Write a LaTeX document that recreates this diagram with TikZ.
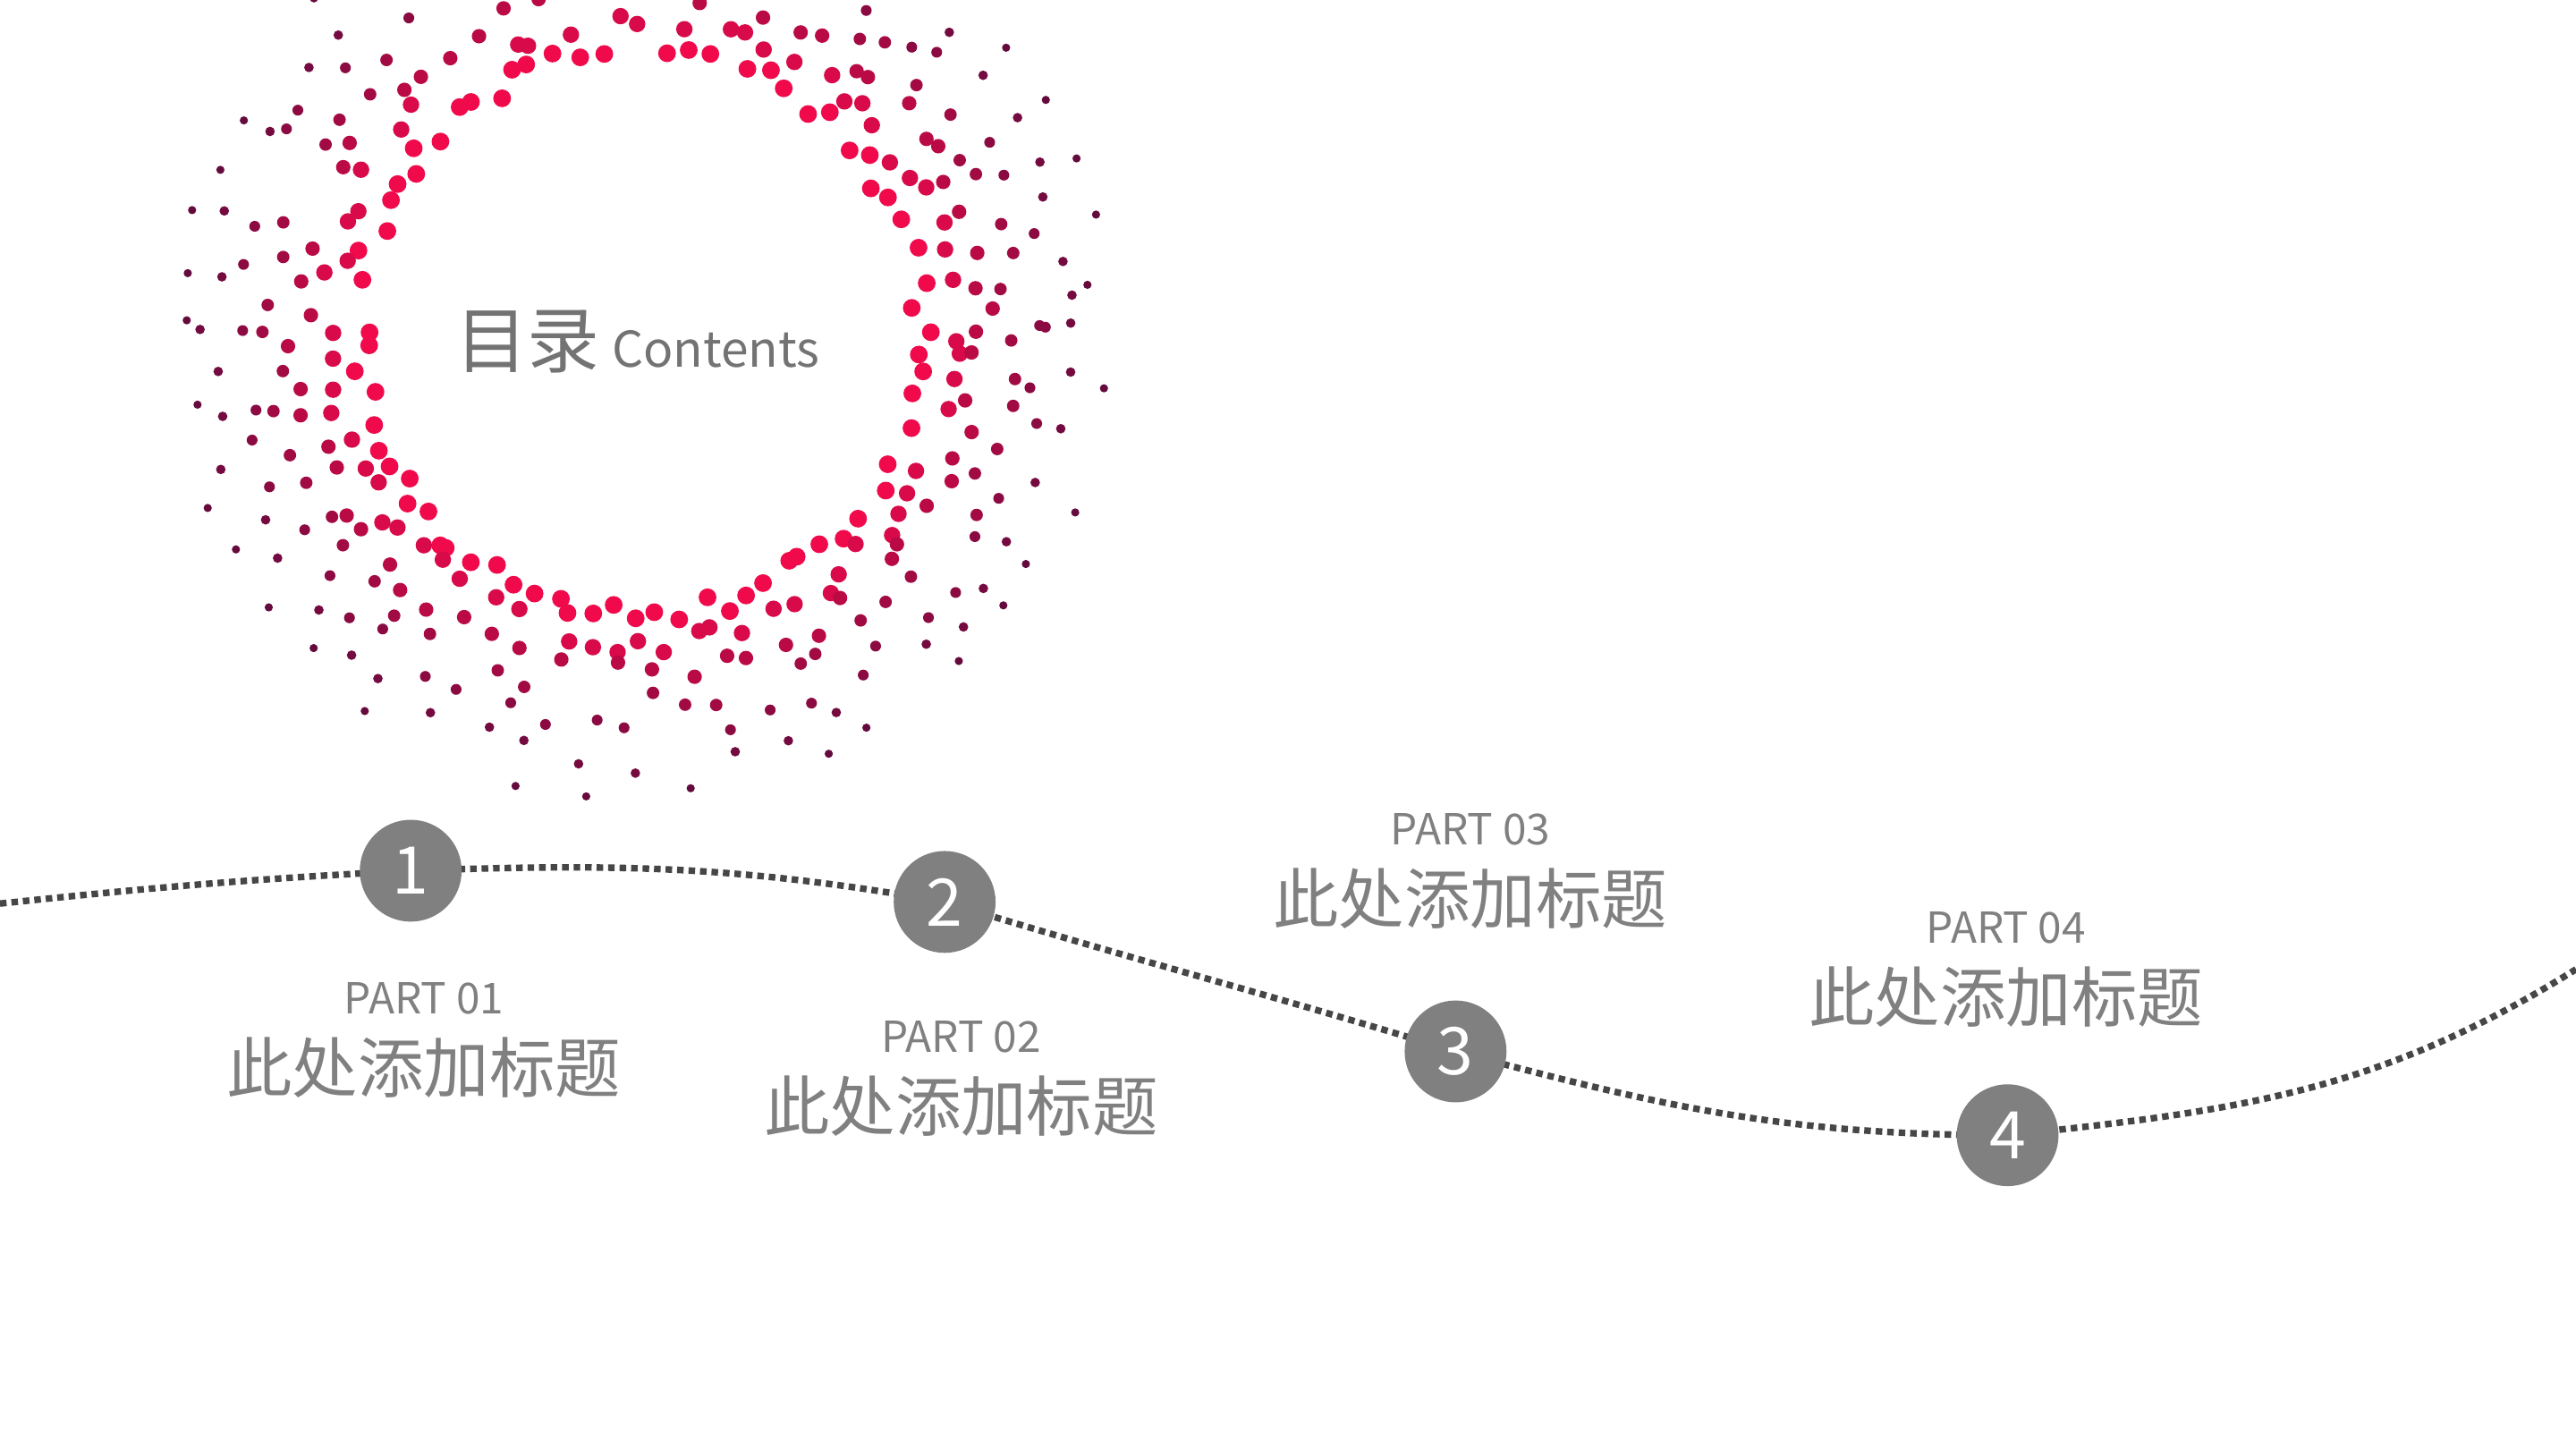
\documentclass[tikz,border=0pt]{standalone}
\usepackage{fontspec}
\usetikzlibrary{calc}
\setmainfont{Noto Sans CJK SC}
\definecolor{dotred}{RGB}{240,10,75}
\definecolor{dotpur}{RGB}{85,10,60}
\definecolor{txtgray}{RGB}{128,128,128}
\definecolor{linegray}{RGB}{70,70,70}
\tikzset{
  numcirc/.style={circle,fill=txtgray,minimum size=62pt,inner sep=0pt,text=white,font=\fontsize{40}{40}\selectfont},
  parttxt/.style={text=txtgray,font=\fontsize{26}{28}\selectfont,align=center},
  titletxt/.style={text=txtgray,font=\fontsize{40}{44}\selectfont,align=center},
  wave/.style={draw=linegray,line width=4pt,dash pattern=on 4pt off 3pt}
}
\begin{document}
\begin{tikzpicture}[x=1pt,y=-1pt]
\useasboundingbox (0,0) rectangle (1568,882);
\pgfmathsetseed{11}
\foreach \r/\s/\p/\st in {172/5.4/100/4.5,190/5.0/85/5,208/4.4/65/5.5,226/3.8/50/6,244/3.3/35/6.5,262/2.9/20/7,280/2.5/10/7.5}{
  \foreach \a in {0,\st,...,359}{
    \pgfmathsetmacro{\rr}{\r+7*rand}
    \pgfmathsetmacro{\aa}{\a+2*rand}
    \pgfmathsetmacro{\keep}{rnd}
    \ifdim\keep pt<0.85pt
      \fill[dotred!\p!dotpur] ($(390,202)+(\aa:\rr)$) circle (\s);
    \fi
  }
}
\node[text=txtgray!90!black] (title) at (388,208) {\fontsize{44}{44}\selectfont 目录\,\fontsize{30}{30}\selectfont Contents};
\coordinate (s) at (0,550);
\coordinate (e) at (1568,590);
\coordinate (p1) at (250,530);
\coordinate (p2) at (575,549);
\coordinate (p3) at (886,640);
\coordinate (p4) at (1222,691);
\draw[wave] (s) to[out=6,in=183] (p1) to[out=2,in=170] (p2) to[out=-17,in=163] (p3) to[out=-15,in=180] (p4) to[out=6,in=212] (e);
\node[numcirc] (c1) at (p1) {1};
\node[numcirc] (c2) at (p2) {2};
\node[numcirc] (c3) at (p3) {3};
\node[numcirc] (c4) at (p4) {4};
\node[parttxt] (l1) at (258,608) {PART 01};
\node[titletxt] (t1) at (258,650) {此处添加标题};
\node[parttxt] (l2) at (585,631) {PART 02};
\node[titletxt] (t2) at (585,673) {此处添加标题};
\node[parttxt] (l3) at (895,505) {PART 03};
\node[titletxt] (t3) at (895,547) {此处添加标题};
\node[parttxt] (l4) at (1221,565) {PART 04};
\node[titletxt] (t4) at (1221,607) {此处添加标题};
\end{tikzpicture}
\end{document}
